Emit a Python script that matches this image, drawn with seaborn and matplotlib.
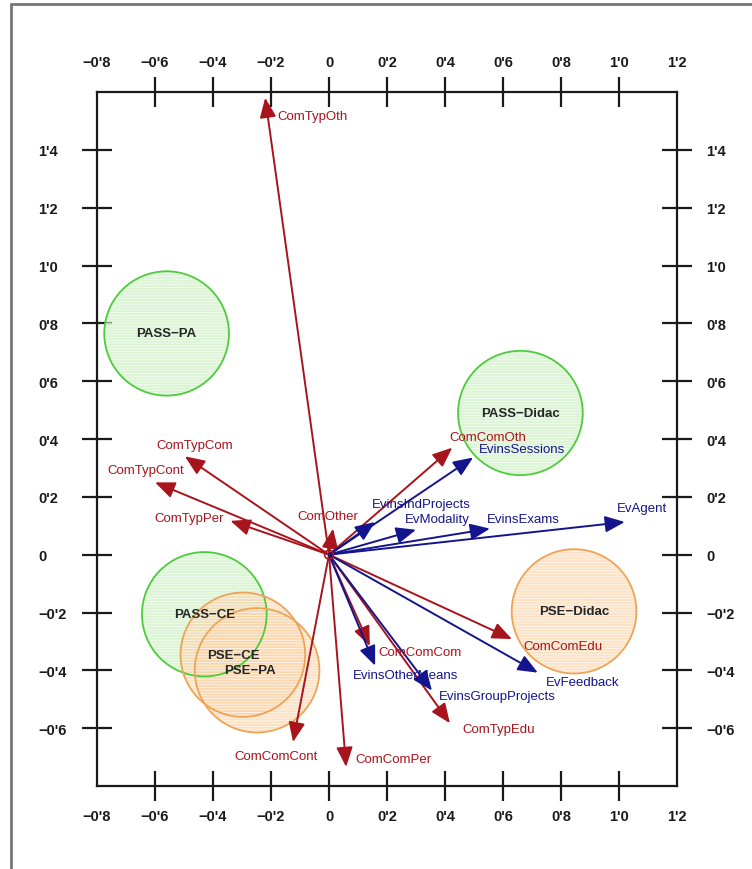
import matplotlib
matplotlib.use("Agg")
import matplotlib.pyplot as plt
from matplotlib.patches import Circle
from matplotlib.lines import Line2D
from matplotlib.ticker import FuncFormatter
from matplotlib.transforms import ScaledTranslation
import seaborn as sns

# communication variables (red arrows)
com_vars = ["ComTypOth", "ComTypCom", "ComTypCont", "ComTypPer", "ComOther",
            "ComComOth", "ComComEdu", "ComComCom", "ComTypEdu", "ComComCont",
            "ComComPer"]
com_x = [-0.22, -0.497, -0.60, -0.34, 0.014, 0.425, 0.631, 0.141, 0.417, -0.124, 0.059]
com_y = [1.58, 0.34, 0.25, 0.117, 0.09, 0.37, -0.292, -0.316, -0.583, -0.648, -0.734]

# evaluation variables (blue arrows)
ev_vars = ["EvinsSessions", "EvinsIndProjects", "EvModality", "EvinsExams",
           "EvAgent", "EvFeedback", "EvinsOtherMeans", "EvinsGroupProjects"]
ev_x = [0.497, 0.159, 0.30, 0.555, 1.02, 0.72, 0.159, 0.355]
ev_y = [0.336, 0.113, 0.086, 0.09, 0.113, -0.408, -0.384, -0.47]

# groups (circles)
groups = ["PASS-PA", "PASS-Didac", "PASS-CE", "PSE-Didac", "PSE-CE", "PSE-PA"]
group_x = [-0.56, 0.66, -0.43, 0.845, -0.297, -0.248]
group_y = [0.765, 0.49, -0.206, -0.196, -0.346, -0.40]
group_kind = ["PASS", "PASS", "PASS", "PSE", "PSE", "PSE"]

x_ticks = [-0.8, -0.6, -0.4, -0.2, 0.0, 0.2, 0.4, 0.6, 0.8, 1.0, 1.2]
y_ticks = [-0.6, -0.4, -0.2, 0.0, 0.2, 0.4, 0.6, 0.8, 1.0, 1.2, 1.4]

# label placement (offset in points, horizontal alignment)
label_pos = {
    "ComTypOth": ((9, -13), "left"),
    "ComTypCom": ((7, 8), "center"),
    "ComTypCont": ((-7, 9), "center"),
    "ComTypPer": ((-5, 2), "right"),
    "ComOther": ((-4, 9), "center"),
    "ComComOth": ((-2, 8), "left"),
    "ComComEdu": ((8, -5), "left"),
    "ComComCom": ((6, -4), "left"),
    "ComTypEdu": ((9, -4), "left"),
    "ComComCont": ((-12, -10), "center"),
    "ComComPer": ((7, 6), "left"),
    "EvinsSessions": ((4, 6), "left"),
    "EvinsIndProjects": ((-2, 13), "left"),
    "EvModality": ((-8, 8), "left"),
    "EvinsExams": ((-2, 7), "left"),
    "EvAgent": ((-6, 10), "left"),
    "EvFeedback": ((6, -7), "left"),
    "EvinsOtherMeans": ((-16, -7), "left"),
    "EvinsGroupProjects": ((5, -4), "left"),
}
group_label_shift = {"PSE-CE": (-7, 0), "PSE-PA": (-5, 0)}

RED = "#a8141c"
BLUE = "#14148c"
fills = {"PASS": "#c4eeb8", "PSE": "#fbcf9f"}
edges = {"PASS": "#4ccc3c", "PSE": "#eea456"}
RADIUS = 0.215

sns.set_theme(style="white")
plt.rcParams["font.family"] = ["Liberation Sans", "DejaVu Sans"]
plt.rcParams["hatch.linewidth"] = 0.7

fig = plt.figure(figsize=(7.52, 8.70), dpi=100)
ax = fig.add_axes([97 / 752, 1 - 787 / 870, 580 / 752, 694 / 870])
ax.set_xlim(-0.8, 1.2)
ax.set_ylim(-0.8, 1.6)

# group circles
for name, gx, gy, kind in zip(groups, group_x, group_y, group_kind):
    ax.add_patch(Circle((gx, gy), RADIUS, facecolor=fills[kind], edgecolor="white",
                        lw=0, hatch="------", alpha=0.6, zorder=1))
    ax.add_patch(Circle((gx, gy), RADIUS, fill=False, edgecolor=edges[kind],
                        lw=1.3, zorder=2))
    dx, dy = group_label_shift.get(name, (0, 0))
    ax.annotate(name.replace("-", "\u2212"), xy=(gx, gy), xytext=(dx, dy),
                textcoords="offset points", ha="center", va="center",
                fontsize=9.5, fontweight="bold", color="#262626", zorder=3)


def draw_arrows(names, xs, ys, color):
    for name, x, y in zip(names, xs, ys):
        ax.annotate("", xy=(x, y), xytext=(0, 0),
                    arrowprops=dict(arrowstyle="-|>,head_length=1.2,head_width=0.5",
                                    color=color, lw=1.4, shrinkA=0, shrinkB=0,
                                    mutation_scale=10),
                    zorder=4)
        off, ha = label_pos[name]
        ax.annotate(name, xy=(x, y), xytext=off, textcoords="offset points",
                    ha=ha, va="center", fontsize=9.5, color=color, zorder=5)


draw_arrows(com_vars, com_x, com_y, RED)
draw_arrows(ev_vars, ev_x, ev_y, BLUE)

sns.scatterplot(x=[0.0], y=[0.0], ax=ax, marker="o", s=40, facecolor="none",
                edgecolor=RED, linewidth=1.2, zorder=6, legend=False)


def fmt(v, pos):
    if abs(v) < 1e-9:
        return "0"
    s = f"{abs(v):.1f}".replace(".", "'")
    return ("\u2212" if v < 0 else "") + s


ax.set_xticks(x_ticks)
ax.set_yticks(y_ticks)
ax.xaxis.set_major_formatter(FuncFormatter(fmt))
ax.yaxis.set_major_formatter(FuncFormatter(fmt))
ax.tick_params(axis="both", direction="inout", length=21.6, width=1.6,
               colors="#1a1a1a", labelsize=10.5)
ax.tick_params(axis="x", top=True, bottom=True, labeltop=True, labelbottom=True, pad=6)
ax.tick_params(axis="y", left=True, right=True, labelleft=True, labelright=True, pad=10)
for lbl in ax.get_xticklabels() + ax.get_yticklabels():
    lbl.set_fontweight("bold")
ax.set_xlabel("")
ax.set_ylabel("")
for sp in ax.spines.values():
    sp.set_visible(True)
    sp.set_color("#1a1a1a")
    sp.set_linewidth(1.6)

xt = ax.xaxis.get_major_ticks()
for i in (0, len(xt) - 1):
    xt[i].tick1line.set_visible(False)
    xt[i].tick2line.set_visible(False)
for t in ax.xaxis.get_major_ticks() + ax.yaxis.get_major_ticks():
    t.label1.set_fontweight("bold")
    t.label2.set_fontweight("bold")
for t in ax.yaxis.get_major_ticks():
    t.label1.set_horizontalalignment("left")
    t.label1.set_transform(t.label1.get_transform()
                           + ScaledTranslation(-0.30, 0, fig.dpi_scale_trans))

# outer frame (left and top edges)
fig.add_artist(Line2D([11 / 752, 1], [1 - 5 / 870] * 2, transform=fig.transFigure,
                      color="#777777", lw=2))
fig.add_artist(Line2D([11 / 752] * 2, [0, 1 - 5 / 870], transform=fig.transFigure,
                      color="#777777", lw=2))

fig.savefig("out.png", dpi=100)
